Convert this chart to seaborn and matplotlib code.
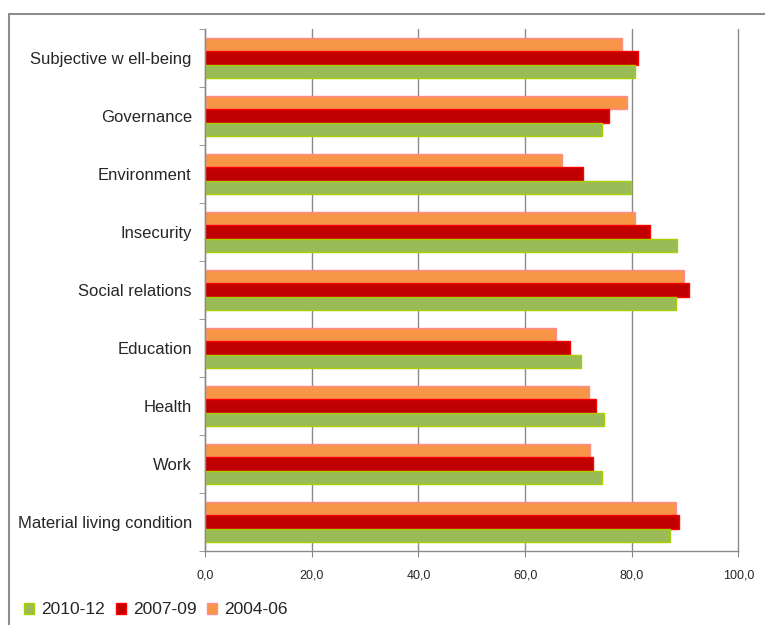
import matplotlib
matplotlib.use("Agg")
import matplotlib.pyplot as plt
import seaborn as sns
import pandas as pd
from matplotlib.patches import Patch
from matplotlib.lines import Line2D
from matplotlib.ticker import FuncFormatter

categories = ["Subjective w ell-being", "Governance", "Environment", "Insecurity",
              "Social relations", "Education", "Health", "Work", "Material living condition"]
v_2004_06 = [78.2, 79.1, 66.9, 80.6, 89.8, 65.7, 72.0, 72.1, 88.2]
v_2007_09 = [81.2, 75.8, 70.9, 83.4, 90.7, 68.5, 73.3, 72.7, 88.8]
v_2010_12 = [80.6, 74.5, 79.9, 88.5, 88.2, 70.5, 74.8, 74.5, 87.2]
series = ["2004-06", "2007-09", "2010-12"]
legend_order = ["2010-12", "2007-09", "2004-06"]
xticks = [0, 20, 40, 60, 80, 100]

fills = {"2004-06": "#F79646", "2007-09": "#C00000", "2010-12": "#9BBB59"}
edges = {"2004-06": "#FF8C8C", "2007-09": "#FF0000", "2010-12": "#A8D000"}

rows = []
for s, vals in zip(series, [v_2004_06, v_2007_09, v_2010_12]):
    for c, v in zip(categories, vals):
        rows.append({"category": c, "series": s, "value": v})
df = pd.DataFrame(rows)

sns.set_style("white")
plt.rcParams["font.family"] = ["Liberation Sans", "DejaVu Sans"]

W, H = 765, 625
fig = plt.figure(figsize=(W / 100, H / 100), dpi=100)

# outer chart frame (left and top edges visible)
frame_col = "#8C8C8C"
fig.add_artist(Line2D([9 / W, 9 / W], [0, 1 - 14 / H], color=frame_col, lw=1.5,
                      transform=fig.transFigure))
fig.add_artist(Line2D([9 / W, 1], [1 - 14 / H, 1 - 14 / H], color=frame_col, lw=1.5,
                      transform=fig.transFigure))

left, right, top, bottom = 205, 738.5, 29, 551
ax = fig.add_axes([left / W, 1 - bottom / H, (right - left) / W, (bottom - top) / H])

sns.barplot(data=df, y="category", x="value", hue="series", order=categories,
            hue_order=series, palette=fills, orient="h", width=0.69, ax=ax,
            legend=False, saturation=1)

for cont, s in zip(ax.containers, series):
    for bar in cont:
        bar.set_edgecolor(edges[s])
        bar.set_linewidth(1.0)

ax.set_xlim(0, 100)
ax.set_xticks(xticks)
ax.xaxis.set_major_formatter(FuncFormatter(lambda v, p: f"{v:.1f}".replace(".", ",")))
ax.grid(axis="x", color="#8A8A8A", linewidth=1.0)
for gl in ax.get_xgridlines():
    gl.set_clip_on(False)
ax.set_axisbelow(True)
ax.set_ylim(len(categories) - 0.5, -0.5)
ax.set_xlabel("")
ax.set_ylabel("")

for side in ["top", "right"]:
    ax.spines[side].set_visible(False)
for side in ["left", "bottom"]:
    ax.spines[side].set_color("#8A8A8A")
    ax.spines[side].set_linewidth(1.0)

ax.tick_params(axis="x", which="major", direction="out", length=4, color="#8A8A8A",
               labelsize=9, pad=9, bottom=True)
ax.tick_params(axis="y", which="major", length=0, labelsize=12, pad=9.5)
ax.set_yticks(range(len(categories)))
ax.set_yticklabels(categories)
ax.set_yticks([i - 0.5 for i in range(len(categories) + 1)], minor=True)
ax.tick_params(axis="y", which="minor", direction="out", length=4, color="#8A8A8A", left=True)

handles = [Patch(facecolor=fills[s], edgecolor=edges[s], label=s) for s in legend_order]
fig.legend(handles=handles, loc="center left", bbox_to_anchor=(24 / W, 1 - 610 / H), ncol=3,
           frameon=False, fontsize=12.5, handlelength=0.6, handleheight=0.6,
           handletextpad=0.4, columnspacing=0.6, borderaxespad=0, borderpad=0)

fig.savefig("out.png", dpi=100)
